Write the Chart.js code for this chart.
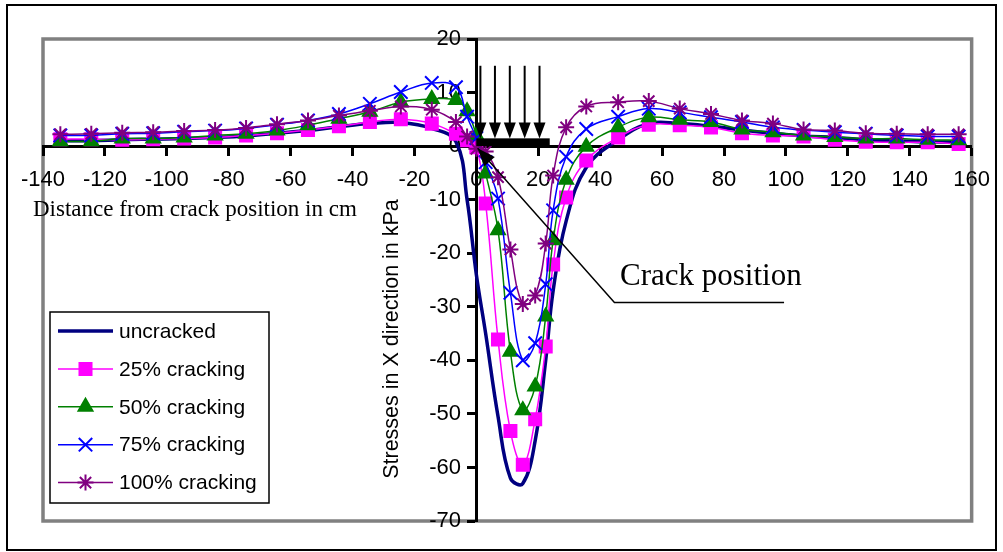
<!DOCTYPE HTML>
<html>
<head>
  <title>Stresses in X direction</title>
  <script src="https://cdn.jsdelivr.net/npm/chart.js"></script>
  <style>
    body { margin: 0; background: #fff; }
    canvas { display: block; }
  </style>
</head>
<body>
  <canvas id="chart" width="1003" height="552"></canvas>
  <script>
    // distance from crack position in cm (mesh nodes)
    const distances = [-134.4, -124.4, -114.4, -104.4, -94.4, -84.4, -74.4, -64.4, -54.4, -44.4, -34.4, -24.4, -14.4, -6.6, -3, 0,
      3, 7, 11, 15, 19, 22.4, 24.8, 29, 35.5, 45.8, 55.7, 65.7, 75.8, 85.8, 95.8, 105.7, 115.8, 125.8, 135.8, 145.8, 155.8];

    // stresses in X direction in kPa
    const uncracked = [1.0, 1.0, 1.2, 1.3, 1.4, 1.6, 1.9, 2.4, 2.9, 3.6, 4.2, 4.4, 3.3, 0.8, -10, -24,
      -35, -50.5, -62, -63, -55, -40, -27, -14, -4, 1.2, 4.2, 4.2, 3.7, 3.0, 2.4, 1.9, 1.6, 1.2, 1.0, 0.8, 0.8];
    const cracking25 = [1.3, 1.3, 1.2, 1.3, 1.4, 1.6, 2.0, 2.4, 3.0, 3.7, 4.5, 5.0, 4.2, 2.3, 1.1, -0.2,
      -10.7, -36.1, -53.2, -59.5, -51, -37.4, -22.1, -9.6, -2.7, 1.6, 4.0, 3.9, 3.5, 2.4, 2.0, 1.8, 1.2, 0.8, 0.7, 0.7, 0.4];
    const cracking50 = [0.9, 0.9, 1.4, 1.4, 1.6, 2.0, 2.3, 2.9, 3.9, 5.1, 6.4, 8.2, 8.8, 8.6, 6.5, 2.0,
      -5.1, -15.7, -38.4, -49.3, -44.9, -31.8, -17.6, -6.3, -0.1, 3.5, 5.4, 4.9, 4.5, 3.1, 2.6, 2.0, 1.7, 1.4, 1.4, 1.2, 1.1];
    const cracking75 = [2.0, 2.0, 2.3, 2.4, 2.7, 2.9, 3.3, 4.0, 4.8, 6.0, 7.9, 10.1, 11.8, 11.0, 5.5, 1.5,
      -3, -9.8, -27.4, -40, -36.8, -25.8, -12, -2.0, 3.2, 5.5, 7.0, 6.3, 5.4, 4.5, 3.5, 3.0, 2.6, 2.3, 2.0, 1.8, 1.8];
    const cracking100 = [2.2, 2.3, 2.5, 2.6, 2.8, 3.0, 3.4, 4.1, 4.8, 5.7, 6.6, 7.4, 6.8, 4.5, 1.8, -0.5,
      -1.0, -5.8, -19.3, -29.5, -27.9, -18.2, -5.5, 3.5, 7.4, 8.2, 8.4, 7.0, 6.0, 4.8, 4.2, 3.1, 2.9, 2.4, 2.3, 2.2, 2.2];

    const seriesNames = ['uncracked', '25% cracking', '50% cracking', '75% cracking', '100% cracking'];

    // axis ranges [min, max, step]
    const xRange = [-140, 160, 20];
    const yRange = [-70, 20, 10];

    // load arrows above the crack (cm) and the loading pad
    const loadArrows = [1.3, 6, 10.8, 15.6, 20.4];
    const loadPad = [0, 23.7];

    // "Crack position" callout, in data units
    const crackTip = [0.4, -0.4];
    const crackElbow = [44.6, -29.2];
    const crackEnd = [99.4, -29.2];

    const SANS = "'Liberation Sans', Arial, sans-serif";
    const SERIF = "'Liberation Serif', 'Times New Roman', serif";

    const pts = vals => vals.map((v, i) => ({ x: distances[i], y: v }));

    const decorations = {
      id: 'decorations',
      beforeDraw(chart) {
        const { ctx, chartArea: a } = chart;
        ctx.save();
        ctx.fillStyle = '#fff';
        ctx.fillRect(0, 0, chart.width, chart.height);
        ctx.strokeStyle = '#000';
        ctx.lineWidth = 2;
        ctx.strokeRect(7, 5, 989, 545);
        ctx.strokeStyle = '#808080';
        ctx.lineWidth = 3.5;
        ctx.strokeRect(a.left, a.top, a.right - a.left, a.bottom - a.top);
        ctx.restore();
      },
      afterDatasetsDraw(chart) {
        const { ctx, chartArea: a } = chart;
        const xs = chart.scales.x, ys = chart.scales.y;
        const X = v => xs.getPixelForValue(v), Y = v => ys.getPixelForValue(v);
        ctx.save();

        // loading pad and arrows
        ctx.fillStyle = '#000';
        ctx.strokeStyle = '#000';
        ctx.fillRect(X(loadPad[0]), Y(1.45), X(loadPad[1]) - X(loadPad[0]), Y(0) - Y(1.45));
        loadArrows.forEach(v => {
          const px = X(v);
          ctx.lineWidth = 2;
          ctx.beginPath();
          ctx.moveTo(px, Y(15));
          ctx.lineTo(px, Y(3));
          ctx.stroke();
          ctx.beginPath();
          ctx.moveTo(px - 6, Y(4.4));
          ctx.lineTo(px + 6, Y(4.4));
          ctx.lineTo(px, Y(1.4));
          ctx.closePath();
          ctx.fill();
        });

        // crack callout
        const tx = X(crackTip[0]), ty = Y(crackTip[1]);
        const ex = X(crackElbow[0]), ey = Y(crackElbow[1]);
        ctx.lineWidth = 1.5;
        ctx.beginPath();
        ctx.moveTo(tx, ty);
        ctx.lineTo(ex, ey);
        ctx.lineTo(X(crackEnd[0]), Y(crackEnd[1]));
        ctx.stroke();
        const ang = Math.atan2(ey - ty, ex - tx);
        ctx.beginPath();
        ctx.moveTo(tx, ty);
        ctx.lineTo(tx + 18 * Math.cos(ang) - 7 * Math.sin(ang), ty + 18 * Math.sin(ang) + 7 * Math.cos(ang));
        ctx.lineTo(tx + 18 * Math.cos(ang) + 7 * Math.sin(ang), ty + 18 * Math.sin(ang) - 7 * Math.cos(ang));
        ctx.closePath();
        ctx.fill();
        ctx.font = '31px ' + SERIF;
        ctx.textAlign = 'left';
        ctx.textBaseline = 'alphabetic';
        ctx.fillText('Crack position', 620, 285);

        // axis titles
        ctx.font = '23px ' + SERIF;
        ctx.fillText('Distance from crack position in cm', 33, 216);
        ctx.save();
        ctx.translate(398, 339);
        ctx.rotate(-Math.PI / 2);
        ctx.textAlign = 'center';
        ctx.font = '21.5px ' + SANS;
        ctx.fillText('Stresses in X direction in kPa', 0, 0);
        ctx.restore();

        // legend box
        const lx = a.left + 7, ly = a.bottom - 209, lw = 219, lh = 191;
        ctx.fillStyle = '#fff';
        ctx.fillRect(lx, ly, lw, lh);
        ctx.strokeStyle = '#000';
        ctx.lineWidth = 1.5;
        ctx.strokeRect(lx, ly, lw, lh);
        chart.data.datasets.forEach((ds, i) => {
          const cy = ly + 19 + i * 37.9;
          ctx.strokeStyle = ds.borderColor;
          ctx.lineWidth = ds.borderWidth;
          ctx.beginPath();
          ctx.moveTo(lx + 8, cy);
          ctx.lineTo(lx + 63, cy);
          ctx.stroke();
          if (ds.pointStyle && ds.pointRadius > 0) {
            ctx.fillStyle = ds.pointBackgroundColor;
            ctx.strokeStyle = ds.pointBorderColor;
            ctx.lineWidth = ds.pointBorderWidth;
            Chart.helpers.drawPoint(ctx, { pointStyle: ds.pointStyle, radius: ds.pointRadius, borderWidth: ds.pointBorderWidth, rotation: 0 }, lx + 35.5, cy);
          }
          ctx.fillStyle = '#000';
          ctx.font = '21px ' + SANS;
          ctx.textBaseline = 'middle';
          ctx.fillText(ds.label, lx + 69, cy + 1);
        });
        ctx.restore();
      }
    };

    const series = [
      { data: uncracked, color: '#000080', width: 3.5, style: false, radius: 0, order: 5 },
      { data: cracking25, color: '#FF00FF', width: 1.5, style: 'rect', radius: 8.5, order: 4 },
      { data: cracking50, color: '#008000', width: 1.5, style: 'triangle', radius: 8, order: 3 },
      { data: cracking75, color: '#0000FF', width: 1.5, style: 'crossRot', radius: 9.5, order: 2 },
      { data: cracking100, color: '#800080', width: 1.5, style: 'star', radius: 8, order: 1 }
    ];

    new Chart(document.getElementById('chart'), {
      type: 'line',
      data: {
        datasets: series.map((s, i) => ({
          label: seriesNames[i],
          data: pts(s.data),
          borderColor: s.color,
          borderWidth: s.width,
          pointStyle: s.style,
          pointRadius: s.radius,
          pointBackgroundColor: s.color,
          pointBorderColor: s.color,
          pointBorderWidth: 2,
          tension: 0.4,
          fill: false,
          order: s.order
        }))
      },
      options: {
        responsive: false,
        animation: false,
        layout: { padding: { left: 43, top: 39, right: 31, bottom: 31 } },
        plugins: { legend: { display: false }, tooltip: { enabled: false } },
        scales: {
          x: {
            type: 'linear',
            min: xRange[0], max: xRange[1],
            position: { y: 0 },
            grid: { drawOnChartArea: false, drawTicks: true, tickLength: 8, tickWidth: 3, tickColor: '#000' },
            border: { display: true, color: '#000', width: 3 },
            ticks: { stepSize: xRange[2], color: '#000', font: { family: SANS, size: 22 }, padding: 13, maxRotation: 0, autoSkip: false }
          },
          y: {
            type: 'linear',
            min: yRange[0], max: yRange[1],
            position: { x: 0 },
            grid: { drawOnChartArea: false, drawTicks: true, tickLength: 8, tickWidth: 3, tickColor: '#000' },
            border: { display: true, color: '#000', width: 3 },
            // labels sit left of the axis line, clear of the tick marks
            ticks: { stepSize: yRange[2], color: '#000', font: { family: SANS, size: 22 }, autoSkip: false,
              callback: v => v + '\u2002\u2009' }
          }
        }
      },
      plugins: [decorations]
    });
  </script>
</body>
</html>
